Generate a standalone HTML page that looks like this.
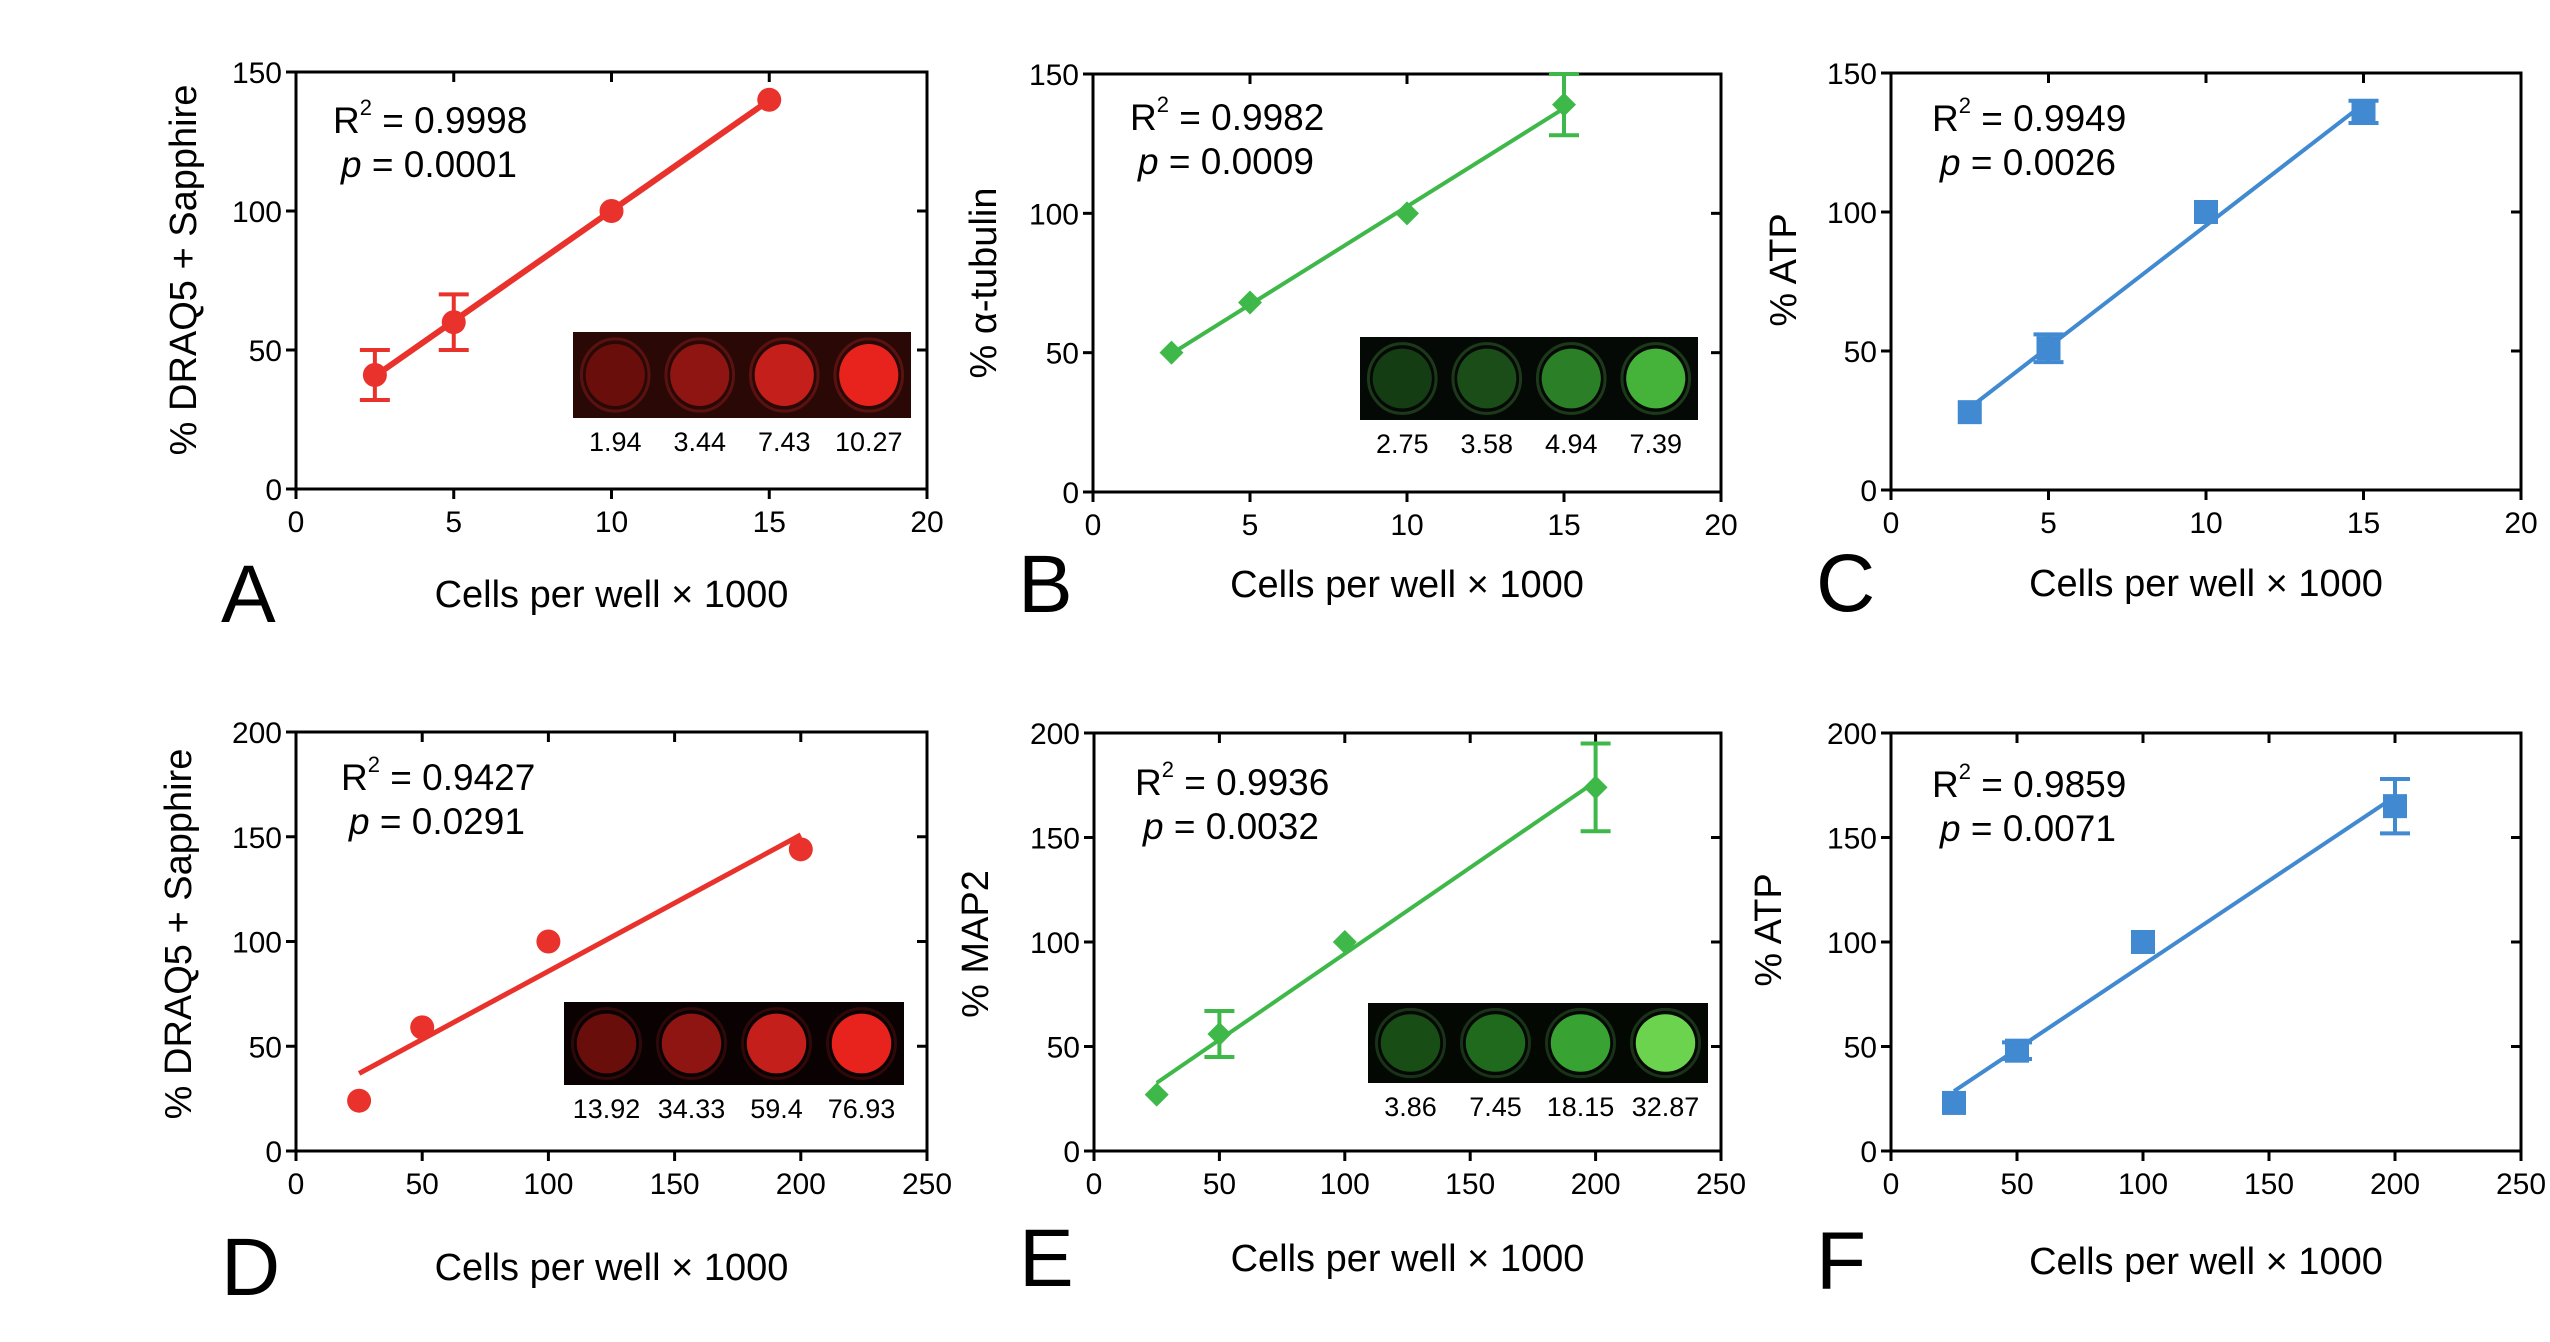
<!DOCTYPE html>
<html><head><meta charset="utf-8">
<style>
html,body{margin:0;padding:0;background:#fff;}
svg{display:block;font-family:"Liberation Sans",Arial,sans-serif;}
</style></head>
<body>
<svg id="fig" width="2550" height="1342" viewBox="0 0 2550 1342"></svg>
<script>
const aX=[2.5,5,10,15], aY=[41,60,100,140], aErr=[9,10,0,0];
const bX=[2.5,5,10,15], bY=[50,68,100,139], bErr=[0,0,0,11];
const cX=[2.5,5,10,15], cY=[28,51,100,136], cErr=[0,5,0,4];
const dX=[25,50,100,200], dY=[24,59,100,144], dErr=[0,0,0,0];
const eX=[25,50,100,200], eY=[27,56,100,174], eErr=[0,11,0,21];
const fX=[25,50,100,200], fY=[23,48,100,165], fErr=[0,4,0,13];
const ticksTop=[0,5,10,15,20], ticksBot=[0,50,100,150,200,250];
const yTicksTop=[0,50,100,150], yTicksBot=[0,50,100,150,200];
const insetA=["1.94","3.44","7.43","10.27"], insetB=["2.75","3.58","4.94","7.39"];
const insetD=["13.92","34.33","59.4","76.93"], insetE=["3.86","7.45","18.15","32.87"];

const NS="http://www.w3.org/2000/svg";
const svg=document.getElementById('fig');
function mk(tag,attrs,parent,text){const e=document.createElementNS(NS,tag);for(const k in attrs)e.setAttribute(k,attrs[k]);if(text!==undefined)e.textContent=text;(parent||svg).appendChild(e);return e;}
const RED="#e8322b",GREEN="#3fb84a",BLUE="#4189d0";

function panel(o){
  const g=mk('g',{});
  
  
  const L=o.box[0],R=o.box[1],T=o.box[2],B=o.box[3];
  const xmax=o.xt[o.xt.length-1], ymax=o.yt[o.yt.length-1];
  const sx=v=>L+(R-L)*v/xmax, sy=v=>B-(B-T)*v/ymax;
  const fr=mk('rect',{x:L,y:T,width:R-L,height:B-T,fill:'none',stroke:'#000','stroke-width':3},g);
  
  o.xt.forEach(t=>{
    const x=sx(t);
    mk('line',{x1:x,y1:B,x2:x,y2:B+10,stroke:'#000','stroke-width':3},g);
    mk('line',{x1:x,y1:T,x2:x,y2:T+10,stroke:'#000','stroke-width':3},g);
    const tl=mk('text',{x:x,y:B+43,'font-size':30,'text-anchor':'middle'},g,String(t));
    
  });
  o.yt.forEach(t=>{
    const y=sy(t);
    mk('line',{x1:L-10,y1:y,x2:L,y2:y,stroke:'#000','stroke-width':3},g);
    mk('line',{x1:R-10,y1:y,x2:R,y2:y,stroke:'#000','stroke-width':3},g);
    const tl=mk('text',{x:L-14,y:y+11,'font-size':30,'text-anchor':'end'},g,String(t));
    
  });
  const n=o.x.length;let mx=0,my=0;for(let i=0;i<n;i++){mx+=o.x[i];my+=o.y[i];}mx/=n;my/=n;
  let sxx=0,sxy=0;for(let i=0;i<n;i++){sxx+=(o.x[i]-mx)**2;sxy+=(o.x[i]-mx)*(o.y[i]-my);}
  const k=sxy/sxx,b0=my-k*mx;const x0=o.x[0],x1=o.x[n-1];
  const fl=mk('line',{x1:sx(x0),y1:sy(k*x0+b0),x2:sx(x1),y2:sy(k*x1+b0),stroke:o.color,'stroke-width':o.lw},g);
  
  for(let i=0;i<n;i++){
    const px=sx(o.x[i]),py=sy(o.y[i]);
    let m;
    if(o.marker==='circle') m=mk('circle',{cx:px,cy:py,r:12,fill:o.color},g);
    else if(o.marker==='diamond') m=mk('polygon',{points:`${px},${py-12} ${px+12},${py} ${px},${py+12} ${px-12},${py}`,fill:o.color},g);
    else m=mk('rect',{x:px-12,y:py-12,width:24,height:24,fill:o.color},g);
    
    if(o.err[i]>0){
      const eg=mk('g',{stroke:o.color,'stroke-width':4},g);
      
      const y1=sy(o.y[i]+o.err[i]),y2=sy(o.y[i]-o.err[i]);
      mk('line',{x1:px,y1:y1,x2:px,y2:y2},eg);
      mk('line',{x1:px-15,y1:y1,x2:px+15,y2:y1},eg);
      mk('line',{x1:px-15,y1:y2,x2:px+15,y2:y2},eg);
    }
  }
  const st=mk('text',{x:o.st[0],y:o.st[1],'font-size':37},g);
  
  mk('tspan',{},st,'R');mk('tspan',{dy:-18,'font-size':22},st,'2');mk('tspan',{dy:18},st,' = '+o.r2);
  const pt=mk('text',{x:o.st[0]+8,y:o.st[1]+44,'font-size':37},g);
  
  mk('tspan',{'font-style':'italic'},pt,'p');mk('tspan',{},pt,'  = '+o.p);
  const yt=mk('text',{x:o.yl[0],y:o.yl[1],'font-size':38,'text-anchor':'middle',transform:`rotate(-90 ${o.yl[0]} ${o.yl[1]})`},g,o.ylabel);
  
  const xt=mk('text',{x:(L+R)/2,y:o.xly,'font-size':38,'text-anchor':'middle'},g,'Cells per well × 1000');
  
  const lt=mk('text',{x:L-75,y:o.xly+15,'font-size':82},g,o.letter);
  
  if(o.inset){
    const [ix,iy,iw,ih]=o.inset.box;
    const ig=mk('g',{},g);
    
    mk('rect',{x:ix,y:iy,width:iw,height:ih,fill:o.inset.bg},ig);
    const cw=iw/4;
    o.inset.labels.forEach((lab,i)=>{
      const cx=ix+cw*(i+0.5),cy=iy+ih/2;
      mk('ellipse',{cx:cx,cy:cy,rx:cw*0.4,ry:ih*0.42,fill:'none',stroke:o.inset.ring,'stroke-width':3},ig);
      mk('ellipse',{cx:cx,cy:cy,rx:cw*0.35,ry:ih*0.36,fill:o.inset.fills[i]},ig);
      const tl=mk('text',{x:cx,y:iy+ih+33,'font-size':27,'text-anchor':'middle'},ig,lab);
      
    });
  }
}
const redF=["#6a0e0c","#8e1512","#c41f1a","#e8231d"];
const grnF=["#184d16","#1f6a1c","#38a232","#6cd34f"];
panel({letter:'A',box:[296,927,72,489],xt:ticksTop,yt:yTicksTop,x:aX,y:aY,err:aErr,color:RED,lw:6,marker:'circle',st:[333,133],r2:'0.9998',p:'0.0001',yl:[196,270],ylabel:'% DRAQ5 + Sapphire',xly:607,
  inset:{box:[573,332,338,86],bg:'#2a0806',ring:'#5a1210',fills:redF,labels:insetA}});
panel({letter:'B',box:[1093,1721,74,492],xt:ticksTop,yt:yTicksTop,x:bX,y:bY,err:bErr,color:GREEN,lw:4,marker:'diamond',st:[1130,130],r2:'0.9982',p:'0.0009',yl:[996,283],ylabel:'% α-tubulin',xly:597,
  inset:{box:[1360,337,338,83],bg:'#050905',ring:'#1c3a1a',fills:["#143d13","#1a4d18","#2b7f26","#45b23a"],labels:insetB}});
panel({letter:'C',box:[1891,2521,73,490],xt:ticksTop,yt:yTicksTop,x:cX,y:cY,err:cErr,color:BLUE,lw:4,marker:'square',st:[1932,131],r2:'0.9949',p:'0.0026',yl:[1796,270],ylabel:'% ATP',xly:596});
panel({letter:'D',box:[296,927,732,1151],xt:ticksBot,yt:yTicksBot,x:dX,y:dY,err:dErr,color:RED,lw:5,marker:'circle',st:[341,790],r2:'0.9427',p:'0.0291',yl:[191,934],ylabel:'% DRAQ5 + Sapphire',xly:1280,
  inset:{box:[564,1002,340,83],bg:'#0a0202',ring:'#300808',fills:redF,labels:insetD}});
panel({letter:'E',box:[1094,1721,733,1151],xt:ticksBot,yt:yTicksBot,x:eX,y:eY,err:eErr,color:GREEN,lw:4,marker:'diamond',st:[1135,795],r2:'0.9936',p:'0.0032',yl:[988,944],ylabel:'% MAP2',xly:1271,
  inset:{box:[1368,1003,340,80],bg:'#030803',ring:'#1a3318',fills:grnF,labels:insetE}});
panel({letter:'F',box:[1891,2521,733,1151],xt:ticksBot,yt:yTicksBot,x:fX,y:fY,err:fErr,color:BLUE,lw:4,marker:'square',st:[1932,797],r2:'0.9859',p:'0.0071',yl:[1781,930],ylabel:'% ATP',xly:1274});
</script>
</body></html>
